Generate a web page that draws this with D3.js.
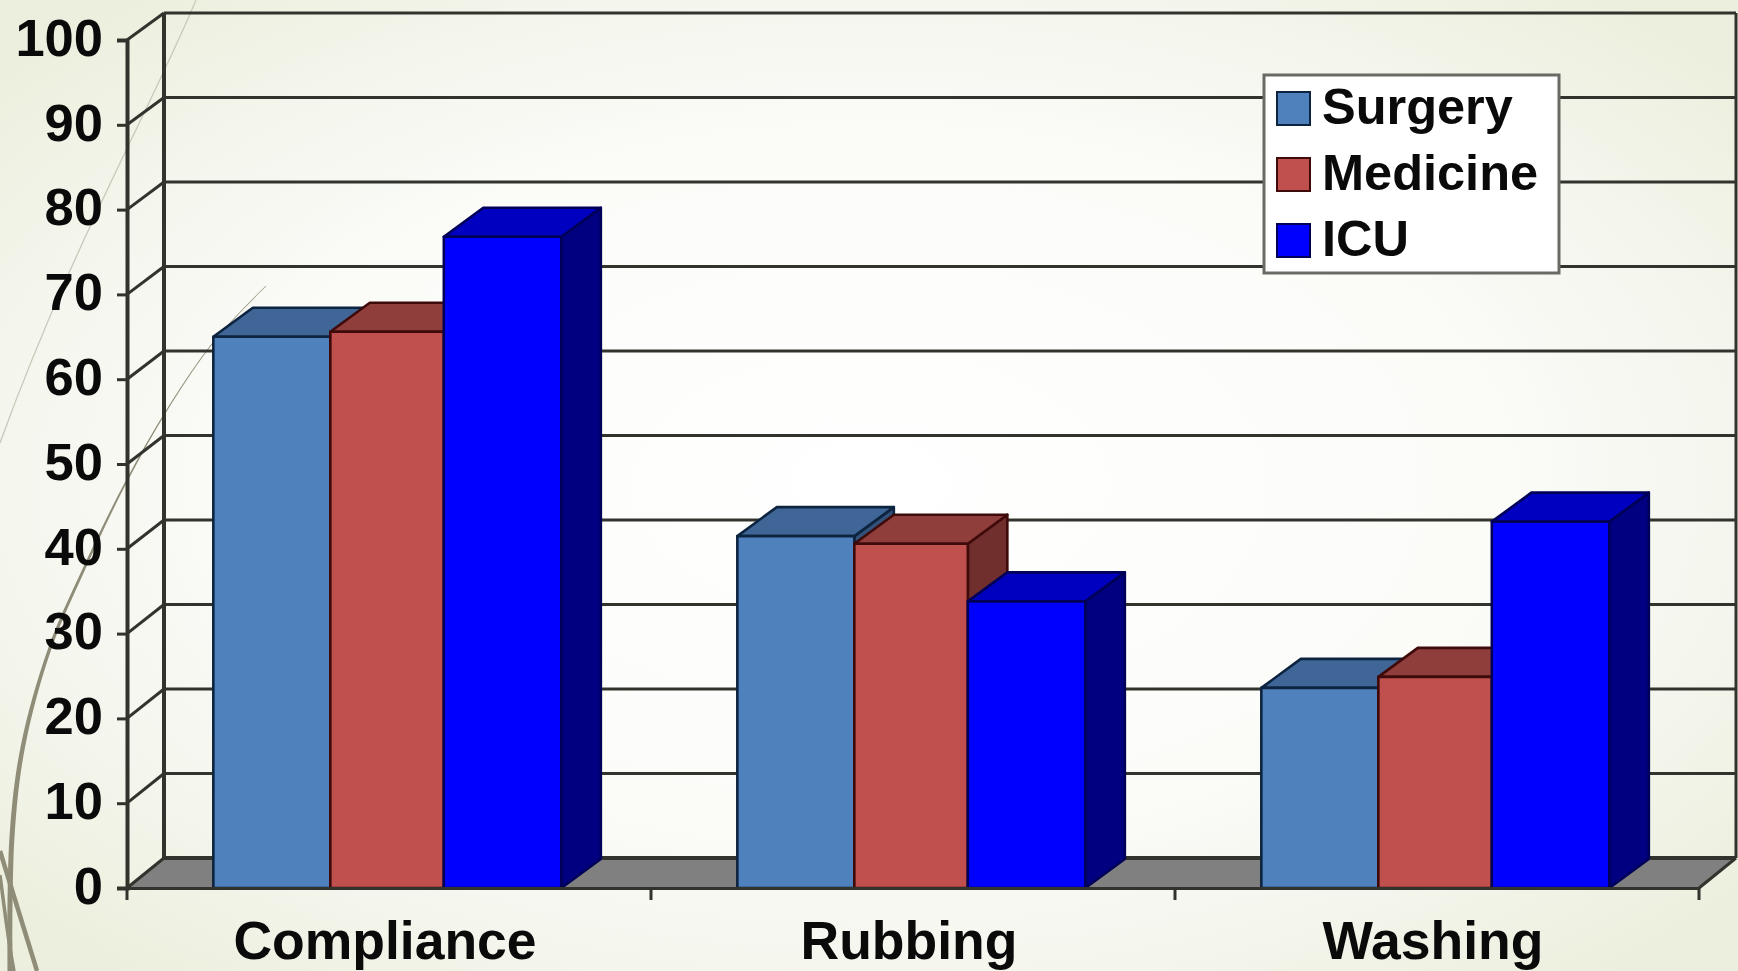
<!DOCTYPE html>
<html>
<head>
<meta charset="utf-8">
<script src="https://cdn.jsdelivr.net/npm/d3@7/dist/d3.min.js"></script>
<style>
html, body { margin: 0; padding: 0; background: #f2f4e8; }
svg { display: block; }
text { font-family: "Liberation Sans", Arial, sans-serif; font-weight: 700; fill: #0a0a0a; }
</style>
</head>
<body>
<svg id="chart" width="1738" height="971"></svg>
<script>
// Chart content
const categories = ["Compliance", "Rubbing", "Washing"];
const seriesNames = ["Surgery", "Medicine", "ICU"];
const surgery = [65, 41.5, 23.6];
const medicine = [65.6, 40.6, 24.9];
const icu = [76.8, 33.8, 43.2];
const yTicks = [0, 10, 20, 30, 40, 50, 60, 70, 80, 90, 100];

// Colours per series: front face, top face, side face, outline
const frontColors = ["#4f81bd", "#c0504d", "#0000ff"];
const topColors = ["#3f6696", "#8f3e3c", "#0000c0"];
const sideColors = ["#33527a", "#702e2d", "#000080"];
const edgeColors = ["#0d2440", "#3f0a0a", "#000058"];

const seriesValues = [surgery, medicine, icu];
const W = 1738, H = 971;
const svg = d3.select("#chart");

// Page background: pale green fading to near white in the middle
const defs = svg.append("defs");
const bg = defs.append("radialGradient").attr("id", "pageBg")
  .attr("cx", "50%").attr("cy", "50%").attr("r", "66%");
bg.append("stop").attr("offset", "0%").attr("stop-color", "#ffffff");
bg.append("stop").attr("offset", "55%").attr("stop-color", "#fbfbf8");
bg.append("stop").attr("offset", "78%").attr("stop-color", "#f4f5ec");
bg.append("stop").attr("offset", "100%").attr("stop-color", "#ecefdd");
svg.append("rect").attr("width", W).attr("height", H).attr("fill", "url(#pageBg)");

// Slide theme's wispy curves along the left edge
const wispColor = "#8f8c78";
const mainWisp = [
  { x: 266, y: 286, w: 0.8 }, { x: 215, y: 340, w: 1 }, { x: 170, y: 405, w: 1.3 },
  { x: 125, y: 484, w: 2 }, { x: 83, y: 571, w: 3 }, { x: 50, y: 648, w: 3.5 },
  { x: 23, y: 746, w: 4.5 }, { x: 12, y: 837, w: 5 }, { x: 10, y: 971, w: 5 }
];
const wispArea = d3.area()
  .y(d => d.y).x0(d => d.x - d.w / 2).x1(d => d.x + d.w / 2)
  .curve(d3.curveCatmullRom);
const wisps = svg.append("g");
wisps.append("path").attr("d", wispArea(mainWisp)).attr("fill", wispColor);
wisps.append("path").attr("d", "M196,0 C150,110 70,250 0,443")
  .attr("fill", "none").attr("stroke", "#c9c9bb").attr("stroke-width", 1.3);
wisps.append("path").attr("d", "M0,851 C12,890 24,930 37,971")
  .attr("fill", "none").attr("stroke", wispColor).attr("stroke-width", 4.5);
wisps.append("path").attr("d", "M0,875 C4,905 8,940 14,971")
  .attr("fill", "none").attr("stroke", wispColor).attr("stroke-width", 3.5);

// Scales: front plane of the box and its back wall
const plotLeft = 127, plotRight = 1699;
const wallDx = 37, barDx = 39.5, barDy = 29;
const yFront = d3.scaleLinear().domain([0, 100]).range([888, 40]);
const yBack = d3.scaleLinear().domain([0, 100]).range([858, 13]);
const xCat = d3.scaleBand().domain(categories).range([plotLeft, plotRight]).paddingInner(0).paddingOuter(0);
// Column edges inside a category; the middle column is slightly narrower
const groupStart = xCat.bandwidth() / 6 - 1;
const xEdge = d3.scaleLinear().domain([0, 1, 2, 3]).range([groupStart, groupStart + 117, groupStart + 230.5, groupStart + 348]);

const wallStroke = "#33332d", wallW = 3, frameW = 4;
const poly = pts => pts.map(p => p.join(",")).join(" ");

// Floor
svg.append("polygon")
  .attr("points", poly([[plotLeft, yFront(0)], [plotLeft + wallDx, yBack(0)], [plotRight + wallDx, yBack(0)], [plotRight, yFront(0)]]))
  .attr("fill", "#808080");

// Gridlines across the back wall and their returns on the side wall
const grid = svg.append("g").attr("stroke", wallStroke).attr("stroke-width", wallW).attr("fill", "none");
grid.selectAll("line.back").data(yTicks).join("line").attr("class", "back")
  .attr("x1", plotLeft + wallDx).attr("x2", plotRight + wallDx)
  .attr("y1", d => yBack(d)).attr("y2", d => yBack(d))
  .attr("stroke-width", d => d === 0 ? frameW : wallW);
grid.selectAll("line.side").data(yTicks).join("line").attr("class", "side")
  .attr("x1", plotLeft).attr("x2", plotLeft + wallDx)
  .attr("y1", d => yFront(d)).attr("y2", d => yBack(d));
grid.append("line").attr("stroke-width", frameW)
  .attr("x1", plotLeft + wallDx).attr("x2", plotLeft + wallDx)
  .attr("y1", yBack(0)).attr("y2", yBack(100));
grid.append("line")
  .attr("x1", plotRight + wallDx).attr("x2", plotRight + wallDx)
  .attr("y1", yBack(0)).attr("y2", yBack(100));
grid.append("line")
  .attr("x1", plotRight).attr("x2", plotRight + wallDx)
  .attr("y1", yFront(0)).attr("y2", yBack(0));

// Extruded columns, drawn left to right so nearer neighbours overlap correctly
const bars = svg.append("g");
categories.forEach((cat, ci) => {
  seriesNames.forEach((name, si) => {
    const v = seriesValues[si][ci];
    const x0 = xCat(cat) + xEdge(si);
    const x1 = xCat(cat) + xEdge(si + 1);
    const yt = yFront(v), yb = yFront(0);
    const g = bars.append("g")
      .attr("stroke", edgeColors[si]).attr("stroke-width", 2.6).attr("stroke-linejoin", "round");
    g.append("polygon").attr("fill", sideColors[si])
      .attr("points", poly([[x1, yt], [x1 + barDx, yt - barDy], [x1 + barDx, yb - barDy], [x1, yb]]));
    g.append("polygon").attr("fill", topColors[si])
      .attr("points", poly([[x0, yt], [x0 + barDx, yt - barDy], [x1 + barDx, yt - barDy], [x1, yt]]));
    g.append("rect").attr("fill", frontColors[si])
      .attr("x", x0).attr("y", yt).attr("width", x1 - x0).attr("height", yb - yt);
  });
});

// Value axis
const yAxis = svg.append("g").attr("transform", `translate(${plotLeft},0)`)
  .call(d3.axisLeft(yFront).tickValues(yTicks).tickSize(10).tickPadding(14));
yAxis.selectAll("path.domain").attr("stroke", wallStroke).attr("stroke-width", frameW);
yAxis.selectAll(".tick line").attr("stroke", wallStroke).attr("stroke-width", wallW);
yAxis.selectAll("text").attr("font-size", 52.5).attr("fill", null).attr("dy", "0.29em");
yAxis.attr("font-family", null).attr("font-size", null);

// Category axis with ticks on the band boundaries
const xAxis = svg.append("g").attr("transform", `translate(0,${yFront(0)})`)
  .call(d3.axisBottom(xCat).tickSize(0).tickPadding(33));
xAxis.selectAll("path.domain").attr("stroke", wallStroke).attr("stroke-width", wallW);
xAxis.selectAll("text").attr("font-size", 53.5).attr("fill", null).attr("dx", -4);
xAxis.attr("font-family", null).attr("font-size", null);
xAxis.selectAll("line.boundary").data(d3.range(categories.length + 1)).join("line").attr("class", "boundary")
  .attr("x1", d => plotLeft + d * xCat.step()).attr("x2", d => plotLeft + d * xCat.step())
  .attr("y1", 0).attr("y2", 12).attr("stroke", wallStroke).attr("stroke-width", wallW);

// Legend box
const legend = svg.append("g").attr("transform", "translate(1264,75)");
legend.append("rect").attr("width", 295).attr("height", 198)
  .attr("fill", "#ffffff").attr("stroke", "#6a6a64").attr("stroke-width", 3);
const rowY = d3.scalePoint().domain(seriesNames).range([17, 149]);
const row = legend.selectAll("g.row").data(seriesNames).join("g").attr("class", "row")
  .attr("transform", d => `translate(13,${rowY(d)})`);
row.append("rect").attr("width", 33).attr("height", 33)
  .attr("fill", (d, i) => frontColors[i]).attr("stroke", (d, i) => edgeColors[i]).attr("stroke-width", 2);
row.append("text").attr("x", 45).attr("y", 32).attr("font-size", 50.5).text(d => d);
</script>
</body>
</html>
